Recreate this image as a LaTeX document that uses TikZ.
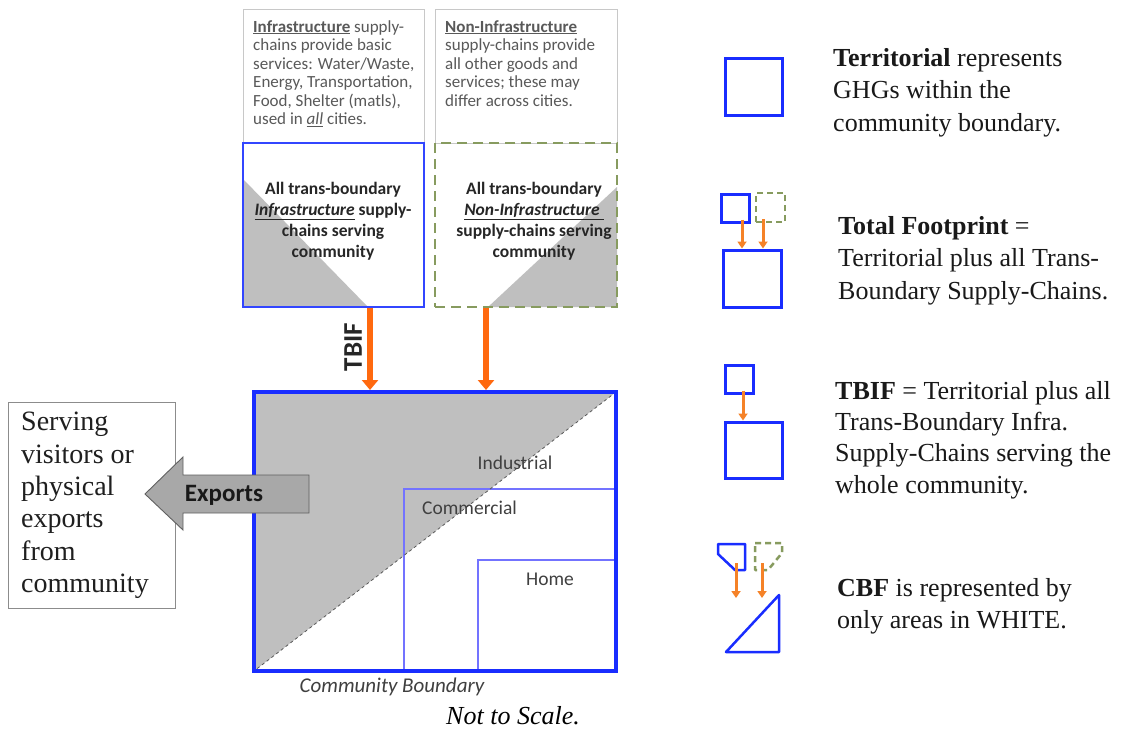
\documentclass[tikz,border=0pt]{standalone}
\usepackage{fontspec}
\setmainfont{Liberation Serif}
\newfontfamily\carlito{Carlito}
\usetikzlibrary{arrows.meta}
\definecolor{mblue}{RGB}{25,45,255}
\definecolor{sqblue}{RGB}{50,70,255}
\definecolor{lblue}{RGB}{115,115,255}
\definecolor{olivegr}{RGB}{135,155,95}
\definecolor{orng}{RGB}{255,105,15}
\definecolor{lorng}{RGB}{245,130,40}
\definecolor{trigray}{RGB}{191,191,191}
\definecolor{boxgray}{RGB}{200,200,200}
\definecolor{txtgray}{RGB}{89,89,89}
\definecolor{lbltxt}{RGB}{64,64,64}
\definecolor{dark}{RGB}{38,38,38}
\definecolor{exfill}{RGB}{168,168,168}
\definecolor{exdraw}{RGB}{96,96,96}
\tikzset{
  tbox/.style={draw=boxgray, line width=0.8pt, inner sep=0pt},
  toptext/.style={anchor=north west, inner sep=0pt, align=left, text=txtgray,
    font=\carlito\fontsize{17}{18.5}\selectfont},
  sqtext/.style={inner sep=0pt, align=center, text=dark,
    font=\carlito\bfseries\fontsize{17.5}{21}\selectfont},
  lbl/.style={inner sep=0pt, text=lbltxt, font=\carlito\fontsize{19.5}{22}\selectfont},
  bigarrow/.style={draw=orng, line width=6.5pt, -{Triangle[width=16pt,length=10pt]}},
  legarrow/.style={draw=lorng, line width=3pt, -{Triangle[width=9pt,length=7pt]}},
  legsq/.style={draw=mblue, line width=3pt, inner sep=0pt},
  legdash/.style={draw=olivegr, line width=2.5pt, dash pattern=on 6pt off 4pt, inner sep=0pt},
  legtext/.style={anchor=north west, inner sep=0pt, align=left, text=black!90,
    font=\fontsize{26}{32.5}\selectfont},
}
\begin{document}
\begin{tikzpicture}[x=1pt,y=-1pt]
\useasboundingbox (0,0) rectangle (1139,731);
\fill[white] (0,0) rectangle (1139,731);

% ---- top text boxes
\node[tbox, minimum width=181pt, minimum height=134pt] (ibox) at (333.5,76) {};
\node[tbox, minimum width=182pt, minimum height=134pt] (nbox) at (526,76) {};
\node[toptext] (itxt) at (253,20) {\underline{\textbf{Infrastructure}} supply-\\chains provide basic\\services: Water/Waste,\\Energy, Transportation,\\Food, Shelter (matls),\\used in \underline{\textit{all}} cities.};
\node[toptext] (ntxt) at (445,20) {\underline{\textbf{Non-Infrastructure}}\\supply-chains provide\\all other goods and\\services; these may\\differ across cities.};

% ---- upper squares
\fill[trigray] (243,179) -- (243,307) -- (368,307) -- cycle;
\fill[trigray] (617,187) -- (617,307) -- (488,307) -- cycle;
\node[draw=sqblue, line width=2pt, inner sep=0pt, minimum width=181pt, minimum height=164pt] (infra) at (333.5,225) {};
\node[draw=olivegr, line width=2pt, dash pattern=on 10pt off 6pt, inner sep=0pt, minimum width=182pt, minimum height=164pt] (noninfra) at (526,225) {};
\node[sqtext] (itx) at (333,221.5) {All trans-boundary\\\underline{\textit{Infrastructure}} supply-\\chains serving\\community};
\node[sqtext] (ntx) at (534,221.5) {All trans-boundary\\\underline{\textit{Non-Infrastructure}\ }\\supply-chains serving\\community};

% ---- main square
\fill[trigray] (254,392) -- (616,392) -- (254,671) -- cycle;
\node[draw=lblue, line width=1.2pt, inner sep=0pt, minimum width=212pt, minimum height=182pt] (commer) at (510,580) {};
\node[draw=lblue, line width=1.2pt, inner sep=0pt, minimum width=138pt, minimum height=111pt] (home) at (547,615.5) {};
\draw[dashed, draw=black!65, line width=0.8pt] (616,392) -- (254,671);
\node[lbl] (lind) at (515,462.5) {Industrial};
\node[lbl] (lcom) at (469.5,508) {Commercial};
\node[lbl] (lhom) at (550,579) {Home};
\node[draw=mblue, line width=4pt, inner sep=0pt, minimum width=362pt, minimum height=279pt] (comm) at (435,531.5) {};
\node[inner sep=0pt, text=lbltxt, font=\carlito\itshape\fontsize{21}{24}\selectfont] (cb) at (392,687) {Community Boundary};

% ---- arrows into community
\coordinate (ax1) at (370,0);
\coordinate (ax2) at (486,0);
\draw[bigarrow] (infra.south -| ax1) -- (comm.north -| ax1);
\draw[bigarrow] (noninfra.south -| ax2) -- (comm.north -| ax2);
\node[rotate=90, inner sep=0pt, text=dark, font=\carlito\bfseries\fontsize{27}{27}\selectfont] (tbif) at (353,347) {TBIF};

% ---- exports
\node[draw=black!45, line width=0.8pt, inner sep=0pt, minimum width=167pt, minimum height=206pt] (sbox) at (91.5,505) {};
\node[anchor=north west, inner sep=0pt, align=left, text=black!88, font=\fontsize{28}{32.4}\selectfont] (stxt) at (21,412) {Serving\\visitors or\\physical\\exports\\from\\community};
\draw[fill=exfill, draw=exdraw, line width=0.9pt] (309,475) -- (183,475) -- (183,457) -- (145,494) -- (183,530) -- (183,513) -- (309,513) -- cycle;
\node[inner sep=0pt, text=black!90, font=\carlito\bfseries\fontsize{25}{28}\selectfont] (exp) at (224,495) {Exports};

\node[inner sep=0pt, font=\itshape\fontsize{26}{30}\selectfont] (nts) at (513,716) {Not to Scale.};

% ---- legend icons
\node[legsq, minimum width=57pt, minimum height=57pt] (t1) at (753.5,86.5) {};

\node[legsq, minimum width=28pt, minimum height=28pt] (f1) at (735,208) {};
\node[legdash, minimum width=29pt, minimum height=29pt] (f2) at (770.5,207.5) {};
\node[legsq, minimum width=58pt, minimum height=57pt] (f3) at (752,278.5) {};
\coordinate (fx1) at (742,0);
\coordinate (fx2) at (763,0);
\draw[legarrow] ([yshift=4pt]f1.south -| fx1) -- (f3.north -| fx1);
\draw[legarrow] ([yshift=4pt]f2.south -| fx2) -- (f3.north -| fx2);

\node[legsq, minimum width=28pt, minimum height=28pt] (b1) at (739,379) {};
\node[legsq, minimum width=57pt, minimum height=56pt] (b2) at (753.5,450) {};
\coordinate (bx) at (743,0);
\draw[legarrow] ([yshift=4pt]b1.south -| bx) -- (b2.north -| bx);

\draw[draw=mblue, line width=2.5pt, line join=round] (718,544) -- (745,544) -- (745,570) -- (735,570) -- (718,554) -- cycle;
\draw[draw=olivegr, line width=2.5pt, dash pattern=on 6pt off 4pt, line join=round] (755,543) -- (782,543) -- (782,553) -- (768,570) -- (755,570) -- cycle;
\draw[draw=mblue, line width=2.5pt, line join=round] (726,652) -- (779,595) -- (779,652) -- cycle;
\coordinate (c1s) at (736,563);
\coordinate (c1e) at (736,598);
\coordinate (c2s) at (762,563);
\coordinate (c2e) at (762,598);
\draw[legarrow] (c1s) -- (c1e);
\draw[legarrow] (c2s) -- (c2e);

% ---- legend texts
\node[legtext] (l1) at (833,48) {\textbf{Territorial} represents\\GHGs within the\\community boundary.};
\node[legtext] (l2) at (838,216) {\textbf{Total Footprint} =\\Territorial plus all Trans-\\Boundary Supply-Chains.};
\node[legtext, font=\fontsize{26}{31.3}\selectfont] (l3) at (835,381) {\textbf{TBIF} = Territorial plus all\\Trans-Boundary Infra.\\Supply-Chains serving the\\whole community.};
\node[legtext] (l4) at (837,578) {\textbf{CBF} is represented by\\only areas in WHITE.};
\end{tikzpicture}
\end{document}
